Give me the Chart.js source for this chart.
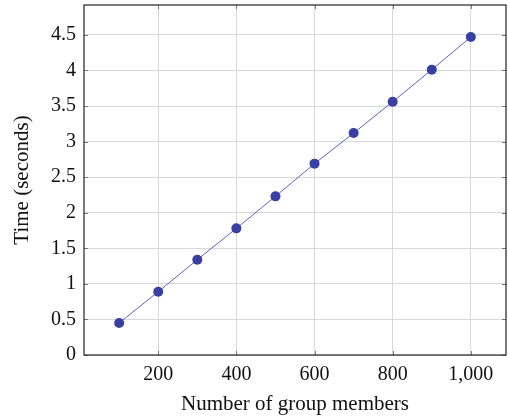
<!DOCTYPE html>
<html>
<head>
<meta charset="utf-8">
<script src="https://cdn.jsdelivr.net/npm/chart.js@4.4.0/dist/chart.umd.min.js"></script>
<style>
html,body{margin:0;padding:0;background:#fff;}
#wrap{width:508px;height:419px;position:relative;}
</style>
</head>
<body>
<div id="wrap"><canvas id="c" width="508" height="419"></canvas></div>
<script>
const groupMembers = [100, 200, 300, 400, 500, 600, 700, 800, 900, 1000];
const timeSeconds = [0.45, 0.89, 1.34, 1.78, 2.23, 2.69, 3.12, 3.56, 4.01, 4.47];
const xTickValues = [200, 400, 600, 800, 1000];
const yTickValues = [0, 0.5, 1, 1.5, 2, 2.5, 3, 3.5, 4, 4.5];
const xTitle = 'Number of group members';
const yTitle = 'Time (seconds)';

const FONT = "'Liberation Serif', 'DejaVu Serif', serif";

const boxPlugin = {
  id: 'box',
  afterDatasetsDraw(chart) {
    const {ctx, chartArea: a, scales} = chart;
    ctx.save();
    ctx.strokeStyle = '#7a7a7a';
    ctx.lineWidth = 1;
    const tl = 4;
    ctx.beginPath();
    xTickValues.forEach(v => {
      const x = Math.round(scales.x.getPixelForValue(v)) + 0.5;
      ctx.moveTo(x, a.bottom); ctx.lineTo(x, a.bottom - tl);
      ctx.moveTo(x, a.top); ctx.lineTo(x, a.top + tl);
    });
    yTickValues.forEach(v => {
      const y = Math.round(scales.y.getPixelForValue(v)) + 0.5;
      ctx.moveTo(a.left, y); ctx.lineTo(a.left + tl, y);
      ctx.moveTo(a.right, y); ctx.lineTo(a.right - tl, y);
    });
    ctx.stroke();
    ctx.strokeStyle = '#222';
    ctx.lineWidth = 1.2;
    ctx.strokeRect(a.left, a.top, a.right - a.left, a.bottom - a.top);
    ctx.restore();
  }
};

new Chart(document.getElementById('c'), {
  type: 'line',
  data: {
    datasets: [{
      data: groupMembers.map((x, i) => ({x, y: timeSeconds[i]})),
      borderColor: '#5a63c6',
      borderWidth: 1,
      backgroundColor: '#3a3fa2',
      pointBackgroundColor: '#3a3fa2',
      pointBorderColor: '#3a3fa2',
      pointRadius: 5,
      pointBorderWidth: 0,
      tension: 0,
      fill: false
    }]
  },
  options: {
    responsive: false,
    animation: false,
    events: [],
    layout: {autoPadding: false, padding: {top: 5, right: 2, left: 0, bottom: 0}},
    plugins: {legend: {display: false}, tooltip: {enabled: false}},
    scales: {
      x: {
        type: 'linear',
        min: 10, max: 1090,
        afterBuildTicks: s => { s.ticks = xTickValues.map(v => ({value: v})); },
        afterFit: s => { s.height = 64; s.paddingLeft = 0; s.paddingRight = 0; },
        border: {display: false},
        grid: {color: '#d8d8d8', lineWidth: 1, drawTicks: false},
        ticks: {
          padding: 8,
          color: '#111',
          font: {family: FONT, size: 20},
          maxRotation: 0,
          callback: v => v.toLocaleString('en-US')
        },
        title: {display: true, text: xTitle, color: '#111', font: {family: FONT, size: 21}, padding: {top: 0, bottom: 2}}
      },
      y: {
        type: 'linear',
        min: 0, max: 4.92,
        afterBuildTicks: s => { s.ticks = yTickValues.map(v => ({value: v})); },
        afterFit: s => { s.width = 84; s.paddingTop = 0; s.paddingBottom = 0; },
        border: {display: false},
        grid: {color: '#d8d8d8', lineWidth: 1, drawTicks: false},
        ticks: {
          padding: 8,
          color: '#111',
          font: {family: FONT, size: 20},
          callback: v => String(v)
        },
        title: {display: true, text: yTitle, color: '#111', font: {family: FONT, size: 21}, padding: {top: 10, bottom: 0}}
      }
    }
  },
  plugins: [boxPlugin]
});
</script>
</body>
</html>
